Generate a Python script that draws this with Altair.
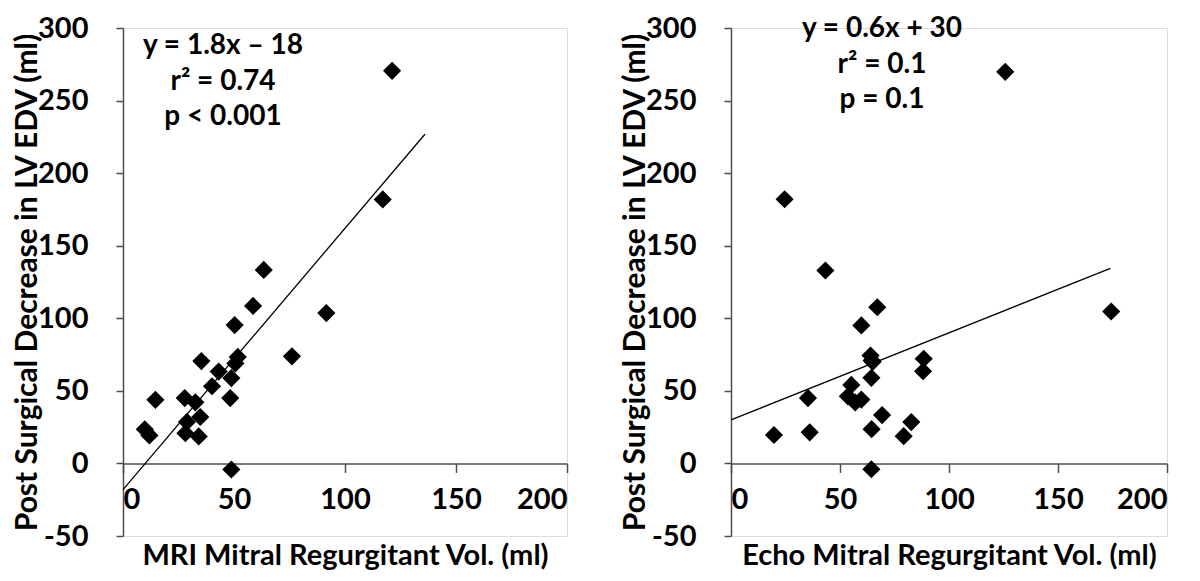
import altair as alt
import pandas as pd

# ---- data ----
mri_x = [121.2, 117.0, 63.4, 58.6, 91.6, 50.3, 76.1, 51.7, 35.3, 50.6, 43.1, 48.8, 40.1,
         48.3, 27.8, 14.6, 32.6, 34.8, 28.8, 9.8, 28.1, 11.9, 34.1, 48.8]
mri_y = [270.5, 181.9, 133.3, 108.5, 103.6, 95.3, 73.8, 73.4, 70.5, 68.9, 63.3, 58.8, 53.2,
         45.0, 45.0, 43.8, 42.1, 32.0, 28.6, 23.5, 20.8, 19.3, 18.6, -4.2]

echo_x = [125.8, 24.6, 43.3, 67.1, 174.4, 59.8, 64.0, 88.4, 64.5, 65.0, 88.1, 64.4, 55.2,
          53.6, 35.3, 59.8, 57.0, 69.3, 82.7, 64.5, 36.1, 19.7, 79.2, 64.4]
echo_y = [269.8, 182.0, 132.9, 107.6, 104.7, 95.1, 74.3, 72.1, 71.0, 70.0, 63.5, 59.0, 54.1,
          46.2, 45.0, 44.0, 42.0, 33.3, 28.5, 23.6, 21.4, 19.6, 18.8, -4.0]

x_ticks = [0, 50, 100, 150, 200]
y_ticks = [-50, 0, 50, 100, 150, 200, 250, 300]

y_title = "Post Surgical Decrease in LV EDV (ml)"
mri_title = "MRI Mitral Regurgitant Vol. (ml)"
echo_title = "Echo Mitral Regurgitant Vol. (ml)"

mri_fit = {"slope": 1.8, "intercept": -18, "x_start": 0, "x_end": 136}
echo_fit = {"slope": 0.6, "intercept": 30, "x_start": 0, "x_end": 174}

mri_stats = "y = 1.8x \u2013 18\nr\u00b2 = 0.74\np < 0.001"
echo_stats = "y = 0.6x + 30\nr\u00b2 = 0.1\np = 0.1"

FONT = "Lato"
H = 508
AXIS_COLOR = "#4d4d4d"
LABEL_EXPR = "datum.value < 0 ? '-' + abs(datum.value) : '' + datum.value"


def panel(xs, ys, xtitle, fit, stats, width, ann_x, ann_y):
    pts = pd.DataFrame({"x": xs, "y": ys})
    line_df = pd.DataFrame({"x": [fit["x_start"], fit["x_end"]]})
    line_df["y"] = fit["slope"] * line_df["x"] + fit["intercept"]

    xscale = alt.Scale(domain=[0, 200], nice=False, zero=False)
    yscale = alt.Scale(domain=[-50, 300], nice=False, zero=False)
    zero_off = -H * 50 / 350

    xaxis = alt.Axis(values=x_ticks, offset=zero_off, grid=False, tickSize=9,
                     tickColor=AXIS_COLOR, domainColor=AXIS_COLOR, domainWidth=1.5,
                     tickWidth=1.5, labelFont=FONT, labelFontSize=29,
                     labelFontWeight="bold", labelColor="black", labelPadding=13,
                     labelExpr=LABEL_EXPR,
                     title=xtitle, titleFont=FONT, titleFontSize=29,
                     titleFontWeight="bold", titleColor="black",
                     titleY=92, titleBaseline="middle")
    yaxis = alt.Axis(values=y_ticks, grid=False, tickSize=7, tickColor=AXIS_COLOR,
                     domainColor=AXIS_COLOR, domainWidth=1.5, tickWidth=1.5,
                     labelFont=FONT, labelFontSize=29, labelFontWeight="bold",
                     labelColor="black", labelPadding=28, labelExpr=LABEL_EXPR,
                     title=y_title, titleFont=FONT, titleFontSize=30,
                     titleFontWeight="bold", titleColor="black",
                     titleX=-96, titleY=H / 2, titleBaseline="middle", titleAlign="center")

    points = alt.Chart(pts).mark_point(shape="diamond", filled=True, color="black",
                                       size=330, opacity=1).encode(
        x=alt.X("x:Q", scale=xscale, axis=xaxis),
        y=alt.Y("y:Q", scale=yscale, axis=yaxis),
    )
    line = alt.Chart(line_df).mark_line(color="black", strokeWidth=1.3).encode(
        x=alt.X("x:Q", scale=xscale),
        y=alt.Y("y:Q", scale=yscale),
    )
    text = alt.Chart(pd.DataFrame({"t": [stats]})).mark_text(
        font=FONT, fontSize=28, fontWeight="bold", color="black", align="center",
        baseline="middle", lineBreak="\n", lineHeight=35.5
    ).encode(text="t:N", x=alt.value(ann_x), y=alt.value(ann_y))

    return alt.layer(line, points, text).properties(width=width, height=H)


left = panel(mri_x, mri_y, mri_title, mri_fit, mri_stats, 444, 100, 18)
right = panel(echo_x, echo_y, echo_title, echo_fit, echo_stats, 436, 151, 1)

chart = alt.hconcat(left, right, spacing=50).properties(
    padding={"left": 3, "top": 5, "right": 0, "bottom": 0}
).configure_view(stroke=None).configure(background="white")

chart.save("out.html", embed_options={"renderer": "svg", "actions": False})
